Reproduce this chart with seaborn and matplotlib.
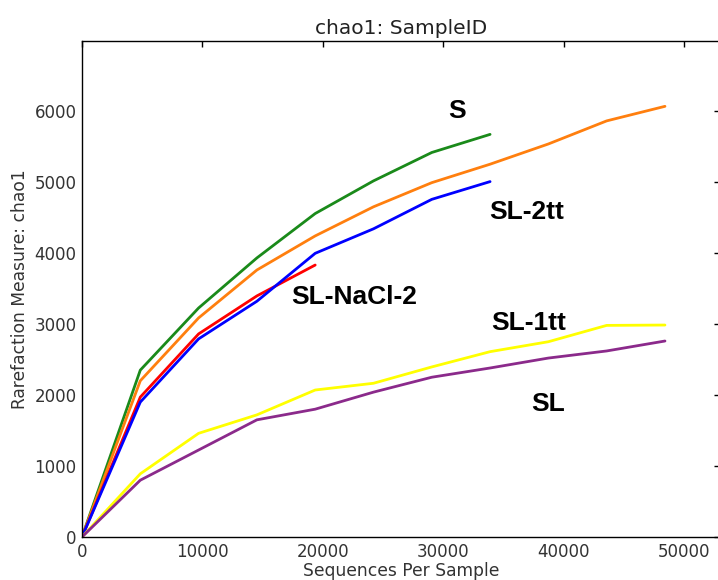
import matplotlib
matplotlib.use("Agg")
import matplotlib.pyplot as plt
import seaborn as sns
import pandas as pd
import numpy as np

depths = [0, 4842, 9684, 14526, 19368, 24210, 29052, 33894, 38736, 43578, 48420]

s_vals = [0, 2350, 3225, 3930, 4555, 5015, 5415, 5670]
orange_vals = [0, 2200, 3085, 3760, 4240, 4650, 4990, 5250, 5535, 5860, 6065]
sl2tt_vals = [0, 1900, 2790, 3320, 3995, 4340, 4755, 5005]
nacl_vals = [0, 1970, 2860, 3395, 3830]
sl1tt_vals = [0, 890, 1460, 1720, 2070, 2165, 2395, 2610, 2750, 2980, 2985]
sl_vals = [0, 800, 1225, 1650, 1800, 2040, 2250, 2380, 2520, 2620, 2760]

series = {
    "S": s_vals,
    "SL-NaCl": orange_vals,
    "SL-NaCl-2": nacl_vals,
    "SL-2tt": sl2tt_vals,
    "SL-1tt": sl1tt_vals,
    "SL": sl_vals,
}
colors = {
    "S": "#1a8a1a",
    "SL-NaCl": "#ff7f0e",
    "SL-NaCl-2": "#ff0000",
    "SL-2tt": "#0000ff",
    "SL-1tt": "#ffff00",
    "SL": "#8b2a8b",
}

rows = []
for name, vals in series.items():
    for d, v in zip(depths, vals):
        rows.append({"depth": d, "value": v, "sample": name})
df = pd.DataFrame(rows)

labels = ["S", "SL-2tt", "SL-NaCl-2", "SL-1tt", "SL"]
label_x = [30450, 33850, 17400, 34000, 37350]
label_y = [6000, 4580, 3380, 3015, 1875]

sns.set_style("white")
fig = plt.figure(figsize=(7.18, 5.80), dpi=100)
ax = fig.add_axes([82 / 718, 1 - 537 / 580, (720 - 82) / 718, (537 - 41) / 580])

sns.lineplot(data=df, x="depth", y="value", hue="sample", palette=colors,
             hue_order=list(series.keys()), linewidth=2.0, ax=ax, legend=False,
             estimator=None, sort=False)

ax.set_xlim(0, 52990)
ax.set_ylim(0, 6985)
ax.set_xticks([0, 10000, 20000, 30000, 40000, 50000])
ax.set_yticks([0, 1000, 2000, 3000, 4000, 5000, 6000])
ax.tick_params(direction="in", length=4, width=1, top=True, right=True,
               labelsize=12, colors="black", pad=4)
for lab in ax.get_xticklabels() + ax.get_yticklabels():
    lab.set_color("#333333")
for sp in ax.spines.values():
    sp.set_color("black")
    sp.set_linewidth(1.0)

ax.set_title("chao1: SampleID", fontsize=14.5, color="#222222", pad=5)
ax.set_xlabel("Sequences Per Sample", fontsize=12.3, color="#333333", labelpad=1)
ax.set_ylabel("Rarefaction Measure: chao1", fontsize=12.3, color="#333333", labelpad=4)

for t, x, y in zip(labels, label_x, label_y):
    ax.text(x, y, t, fontsize=19, fontweight="bold", color="black",
            family="Liberation Sans", ha="left", va="center")

fig.savefig("out.png", dpi=100)
